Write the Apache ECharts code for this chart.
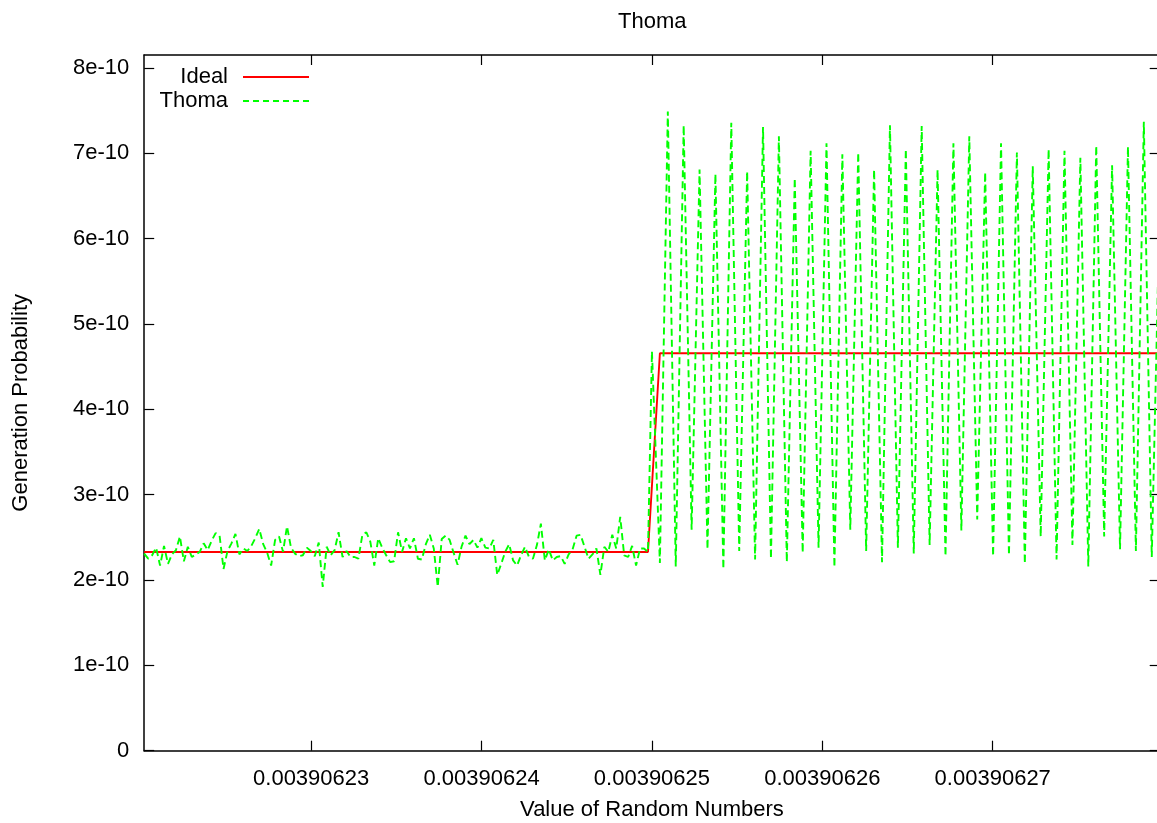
<!DOCTYPE html>
<html>
<head>
<meta charset="utf-8">
<script src="https://cdn.jsdelivr.net/npm/echarts@6/dist/echarts.min.js"></script>
<style>
html,body{margin:0;padding:0;background:#fff;overflow:hidden;}
#main{width:1162px;height:823px;}
</style>
</head>
<body>
<div id="main"></div>
<script>
// ---- data ----
// x: value of random numbers, stored as offset from 1/256 in units of 1e-11
// y: generation probability in units of 1e-10
const X_CENTER_LABEL = 0.00390625;   // 1/256
const STEP = 0.02328;                // sample spacing below 1/256 (x1e-11); doubled above
const xTickValues = [-2, -1, 0, 1, 2];
const xTickLabels = ['0.00390623', '0.00390624', '0.00390625', '0.00390626', '0.00390627'];
const yTickValues = [0, 1, 2, 3, 4, 5, 6, 7, 8];
const yTickLabels = ['0', '1e-10', '2e-10', '3e-10', '4e-10', '5e-10', '6e-10', '7e-10', '8e-10'];

// Thoma: 128 samples below 1/256
const thomaBelow = [
  2.31,2.25,2.29,2.38,2.17,2.40,2.19,2.30,2.35,2.51,
  2.22,2.39,2.27,2.30,2.33,2.43,2.35,2.46,2.55,2.52,
  2.13,2.34,2.43,2.54,2.30,2.37,2.34,2.40,2.49,2.60,
  2.42,2.32,2.17,2.47,2.51,2.33,2.63,2.38,2.31,2.28,
  2.29,2.38,2.34,2.28,2.44,1.92,2.39,2.29,2.35,2.56,
  2.27,2.34,2.27,2.27,2.25,2.53,2.56,2.45,2.17,2.49,
  2.38,2.29,2.21,2.22,2.56,2.33,2.49,2.37,2.49,2.25,
  2.24,2.42,2.53,2.37,1.92,2.48,2.52,2.47,2.32,2.18,
  2.39,2.52,2.42,2.47,2.38,2.49,2.38,2.37,2.47,2.06,
  2.19,2.33,2.42,2.23,2.17,2.29,2.39,2.27,2.25,2.41,
  2.66,2.23,2.36,2.23,2.27,2.28,2.19,2.30,2.36,2.52,
  2.53,2.39,2.25,2.30,2.37,2.06,2.39,2.33,2.53,2.37,
  2.74,2.29,2.27,2.40,2.17,2.37,2.37,2.33
];
// Thoma: value at exactly 1/256
const thomaAtCenter = 4.68;
// Thoma: 64 samples above 1/256
const thomaAbove = [
  2.20,7.49,2.16,7.33,2.59,6.81,2.36,6.76,2.13,7.36,
  2.34,6.79,2.24,7.31,2.25,7.20,2.21,6.71,2.32,7.03,
  2.38,7.12,2.15,6.99,2.59,7.01,2.34,6.81,2.21,7.33,
  2.38,7.05,2.31,7.32,2.41,6.81,2.28,7.12,2.58,7.20,
  2.71,6.78,2.28,7.12,2.29,7.01,2.19,6.85,2.51,7.05,
  2.24,7.03,2.41,6.95,2.16,7.09,2.51,6.86,2.36,7.08,
  2.34,7.37,2.27,6.40
];
// Ideal: 2^-32 below 1/256, 2^-31 above
const idealBelow = 2.328;
const idealAbove = 4.657;

// ---- build series data ----
const XMIN = -128 * STEP;
const XMAX = 128 * STEP;
const thomaData = [];
thomaBelow.forEach((v, i) => thomaData.push([-(128 - i) * STEP, v]));
thomaData.push([0, thomaAtCenter]);
thomaAbove.forEach((v, i) => thomaData.push([2 * (i + 1) * STEP, v]));
const idealData = [
  [XMIN, idealBelow],
  [-STEP, idealBelow],
  [2 * STEP, idealAbove],
  [XMAX, idealAbove]
];

const FONT = "'Liberation Sans', Arial, Helvetica, sans-serif";
const txt = { color: '#000', fontSize: 22, fontFamily: FONT };

function xLabel(v) {
  const i = xTickValues.indexOf(Math.round(v));
  return i >= 0 ? xTickLabels[i] : '';
}

const axisLineStyle = { color: '#000', width: 1.5 };
const tickStyle = { color: '#000', width: 1.2 };

// legend sample icons: solid line and dashed line
const solidIcon = 'path://M0,0H66V2H0Z';
let dashPath = 'path://';
for (let k = 0; k < 7; k++) { dashPath += 'M' + (k * 10) + ',0h6v2h-6Z'; }

const chart = echarts.init(document.getElementById('main'), null, { renderer: 'canvas' });
chart.setOption({
  animation: false,
  backgroundColor: '#fff',
  title: {
    text: 'Thoma', left: 618, top: 11, padding: 0,
    textStyle: Object.assign({ fontWeight: 'normal' }, txt)
  },
  legend: [
    {
      data: [{ name: 'Ideal', icon: solidIcon }], right: 853, top: 66, orient: 'vertical', align: 'right', padding: 0,
      itemWidth: 66, itemHeight: 2, textStyle: Object.assign({ padding: [0, 10, 0, 0] }, txt)
    },
    {
      data: [{ name: 'Thoma', icon: dashPath }], right: 853, top: 90, orient: 'vertical', align: 'right', padding: 0,
      itemWidth: 66, itemHeight: 2, textStyle: Object.assign({ padding: [0, 10, 0, 0] }, txt)
    }
  ],
  grid: { left: 144.2, top: 55, width: 1015.5, height: 695.7, containLabel: false, outerBoundsMode: 'none' },
  xAxis: [
    {
      type: 'value', min: XMIN, max: XMAX, position: 'bottom',
      name: 'Value of Random Numbers', nameLocation: 'middle', nameGap: 48,
      nameTextStyle: txt,
      axisLine: { show: true, onZero: false, lineStyle: axisLineStyle },
      axisTick: { show: true, inside: true, length: 10, customValues: xTickValues, lineStyle: tickStyle },
      axisLabel: Object.assign({ customValues: xTickValues, formatter: xLabel, margin: 17, hideOverlap: false }, txt),
      splitLine: { show: false }
    },
    {
      type: 'value', min: XMIN, max: XMAX, position: 'top',
      axisLine: { show: true, onZero: false, lineStyle: axisLineStyle },
      axisTick: { show: true, inside: true, length: 10, customValues: xTickValues, lineStyle: tickStyle },
      axisLabel: { show: false },
      splitLine: { show: false }
    }
  ],
  yAxis: [
    {
      type: 'value', min: 0, max: 8.153, interval: 1, position: 'left',
      name: 'Generation Probability', nameLocation: 'middle', nameGap: 112,
      nameTextStyle: txt,
      axisLine: { show: true, onZero: false, lineStyle: axisLineStyle },
      axisTick: { show: true, inside: true, length: 10, customValues: yTickValues, lineStyle: tickStyle },
      axisLabel: Object.assign({ customValues: yTickValues, formatter: v => yTickLabels[Math.round(v)], margin: 15 }, txt),
      splitLine: { show: false }
    },
    {
      type: 'value', min: 0, max: 8.153, interval: 1, position: 'right',
      axisLine: { show: true, onZero: false, lineStyle: axisLineStyle },
      axisTick: { show: true, inside: true, length: 10, customValues: yTickValues, lineStyle: tickStyle },
      axisLabel: { show: false },
      splitLine: { show: false }
    }
  ],
  series: [
    {
      name: 'Ideal', type: 'line', xAxisIndex: 0, yAxisIndex: 0,
      data: idealData, symbol: 'none', showSymbol: false,
      color: '#ff0000', lineStyle: { color: '#ff0000', width: 1.9 }, z: 2
    },
    {
      name: 'Thoma', type: 'line', xAxisIndex: 0, yAxisIndex: 0,
      data: thomaData, symbol: 'none', showSymbol: false,
      color: '#00ff00', lineStyle: { color: '#00ff00', width: 1.9, type: [7, 4] }, z: 3
    }
  ]
});
</script>
</body>
</html>
